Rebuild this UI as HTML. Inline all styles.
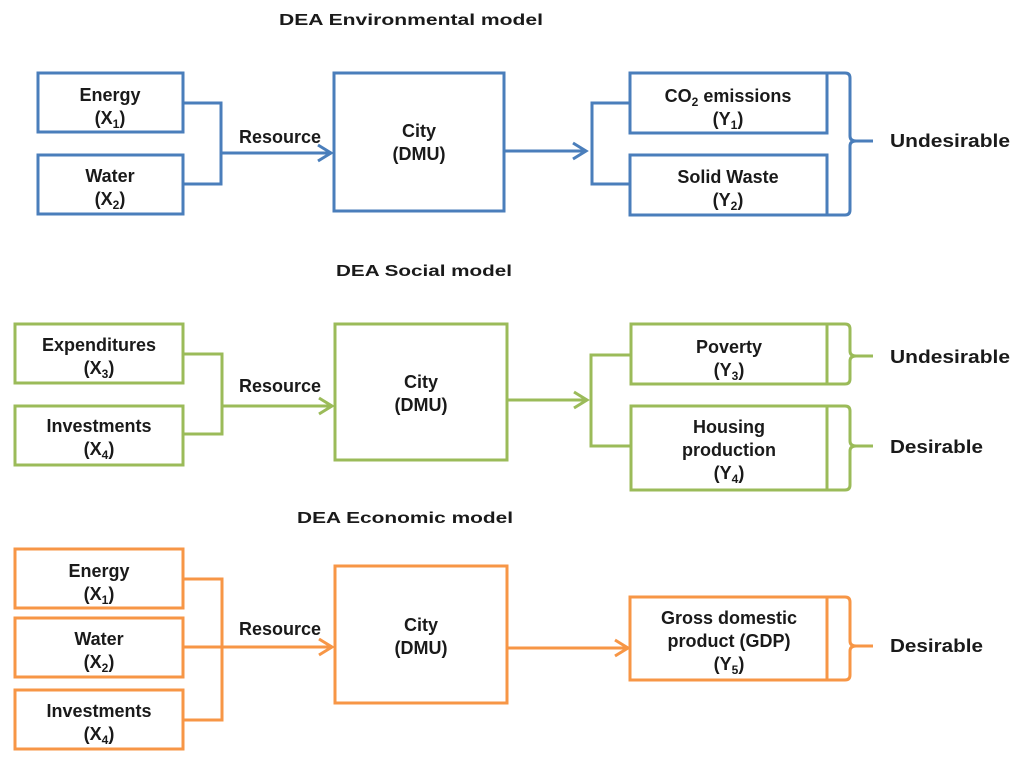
<!DOCTYPE html>
<html><head><meta charset="utf-8"><style>
html,body{margin:0;padding:0;background:#fff;}
svg{display:block;}
text{font-family:"Liberation Sans",sans-serif;font-weight:bold;fill:#1a1a1a;font-size:18px;}
.t{font-size:16px;}
</style></head><body>
<svg width="1024" height="766" viewBox="0 0 1024 766" xmlns="http://www.w3.org/2000/svg">
<text class="t" x="411" y="25" text-anchor="middle" textLength="264" lengthAdjust="spacingAndGlyphs">DEA Environmental model</text>
<text class="t" x="424" y="276" text-anchor="middle" textLength="176" lengthAdjust="spacingAndGlyphs">DEA Social model</text>
<text class="t" x="405" y="523" text-anchor="middle" textLength="216" lengthAdjust="spacingAndGlyphs">DEA Economic model</text>

<g fill="none" stroke="#4a7ebb" stroke-width="3">
<rect x="38" y="73" width="145" height="59"/>
<rect x="38" y="155" width="145" height="59"/>
<polyline points="183,103 221,103 221,184 183,184"/>
<line x1="221" y1="153" x2="331" y2="153"/>
<polyline points="318,145 331,153 318,161"/>
<rect x="334" y="73" width="170" height="138"/>
<line x1="504" y1="151" x2="586" y2="151"/>
<polyline points="573,143 586,151 573,159"/>
<polyline points="630,103 592,103 592,184 630,184"/>
<rect x="630" y="73" width="197" height="60"/>
<rect x="630" y="155" width="197" height="60"/>
<path d="M827,73 L845,73 Q850,73 850,78 L850,136 Q850,141 856,141 L873,141 M856,141 Q850,141 850,146 L850,210 Q850,215 845,215 L827,215"/>
</g>
<text x="110" y="101" text-anchor="middle">Energy</text>
<text x="110" y="124" text-anchor="middle">(X<tspan font-size="12" dy="4">1</tspan><tspan dy="-4">)</tspan></text>
<text x="110" y="182" text-anchor="middle">Water</text>
<text x="110" y="205" text-anchor="middle">(X<tspan font-size="12" dy="4">2</tspan><tspan dy="-4">)</tspan></text>
<text x="280" y="143" text-anchor="middle">Resource</text>
<text x="419" y="137" text-anchor="middle">City</text>
<text x="419" y="160" text-anchor="middle">(DMU)</text>
<text x="728" y="102" text-anchor="middle">CO<tspan font-size="12" dy="4">2</tspan><tspan dy="-4"> emissions</tspan></text>
<text x="728" y="125" text-anchor="middle">(Y<tspan font-size="12" dy="4">1</tspan><tspan dy="-4">)</tspan></text>
<text x="728" y="183" text-anchor="middle">Solid Waste</text>
<text x="728" y="206" text-anchor="middle">(Y<tspan font-size="12" dy="4">2</tspan><tspan dy="-4">)</tspan></text>
<text x="890" y="147" textLength="120" lengthAdjust="spacingAndGlyphs">Undesirable</text>

<g fill="none" stroke="#9bbb59" stroke-width="3">
<rect x="15" y="324" width="168" height="59"/>
<rect x="15" y="406" width="168" height="59"/>
<polyline points="183,354 222,354 222,434 183,434"/>
<line x1="222" y1="406" x2="332" y2="406"/>
<polyline points="319,398 332,406 319,414"/>
<rect x="335" y="324" width="172" height="136"/>
<line x1="507" y1="400" x2="587" y2="400"/>
<polyline points="574,392 587,400 574,408"/>
<polyline points="630,355 591,355 591,446 630,446"/>
<rect x="631" y="324" width="196" height="60"/>
<rect x="631" y="406" width="196" height="84"/>
<path d="M827,324 L845,324 Q850,324 850,329 L850,351 Q850,356 856,356 L873,356 M856,356 Q850,356 850,361 L850,379 Q850,384 845,384 L827,384"/>
<path d="M827,406 L845,406 Q850,406 850,411 L850,441 Q850,446 856,446 L873,446 M856,446 Q850,446 850,451 L850,485 Q850,490 845,490 L827,490"/>
</g>
<text x="99" y="351" text-anchor="middle">Expenditures</text>
<text x="99" y="374" text-anchor="middle">(X<tspan font-size="12" dy="4">3</tspan><tspan dy="-4">)</tspan></text>
<text x="99" y="432" text-anchor="middle">Investments</text>
<text x="99" y="455" text-anchor="middle">(X<tspan font-size="12" dy="4">4</tspan><tspan dy="-4">)</tspan></text>
<text x="280" y="392" text-anchor="middle">Resource</text>
<text x="421" y="388" text-anchor="middle">City</text>
<text x="421" y="411" text-anchor="middle">(DMU)</text>
<text x="729" y="353" text-anchor="middle">Poverty</text>
<text x="729" y="376" text-anchor="middle">(Y<tspan font-size="12" dy="4">3</tspan><tspan dy="-4">)</tspan></text>
<text x="729" y="433" text-anchor="middle">Housing</text>
<text x="729" y="456" text-anchor="middle">production</text>
<text x="729" y="479" text-anchor="middle">(Y<tspan font-size="12" dy="4">4</tspan><tspan dy="-4">)</tspan></text>
<text x="890" y="363" textLength="120" lengthAdjust="spacingAndGlyphs">Undesirable</text>
<text x="890" y="453" textLength="93" lengthAdjust="spacingAndGlyphs">Desirable</text>

<g fill="none" stroke="#f79646" stroke-width="3">
<rect x="15" y="549" width="168" height="59"/>
<rect x="15" y="618" width="168" height="59"/>
<rect x="15" y="690" width="168" height="59"/>
<polyline points="183,579 222,579 222,720 183,720"/>
<line x1="183" y1="647" x2="332" y2="647"/>
<polyline points="319,639 332,647 319,655"/>
<rect x="335" y="566" width="172" height="137"/>
<line x1="507" y1="648" x2="628" y2="648"/>
<polyline points="615,640 628,648 615,656"/>
<rect x="630" y="597" width="197" height="83"/>
<path d="M827,597 L845,597 Q850,597 850,602 L850,641 Q850,646 856,646 L873,646 M856,646 Q850,646 850,651 L850,675 Q850,680 845,680 L827,680"/>
</g>
<text x="99" y="577" text-anchor="middle">Energy</text>
<text x="99" y="600" text-anchor="middle">(X<tspan font-size="12" dy="4">1</tspan><tspan dy="-4">)</tspan></text>
<text x="99" y="645" text-anchor="middle">Water</text>
<text x="99" y="668" text-anchor="middle">(X<tspan font-size="12" dy="4">2</tspan><tspan dy="-4">)</tspan></text>
<text x="99" y="717" text-anchor="middle">Investments</text>
<text x="99" y="740" text-anchor="middle">(X<tspan font-size="12" dy="4">4</tspan><tspan dy="-4">)</tspan></text>
<text x="280" y="635" text-anchor="middle">Resource</text>
<text x="421" y="631" text-anchor="middle">City</text>
<text x="421" y="654" text-anchor="middle">(DMU)</text>
<text x="729" y="624" text-anchor="middle">Gross domestic</text>
<text x="729" y="647" text-anchor="middle">product (GDP)</text>
<text x="729" y="670" text-anchor="middle">(Y<tspan font-size="12" dy="4">5</tspan><tspan dy="-4">)</tspan></text>
<text x="890" y="652" textLength="93" lengthAdjust="spacingAndGlyphs">Desirable</text>
</svg>
</body></html>
